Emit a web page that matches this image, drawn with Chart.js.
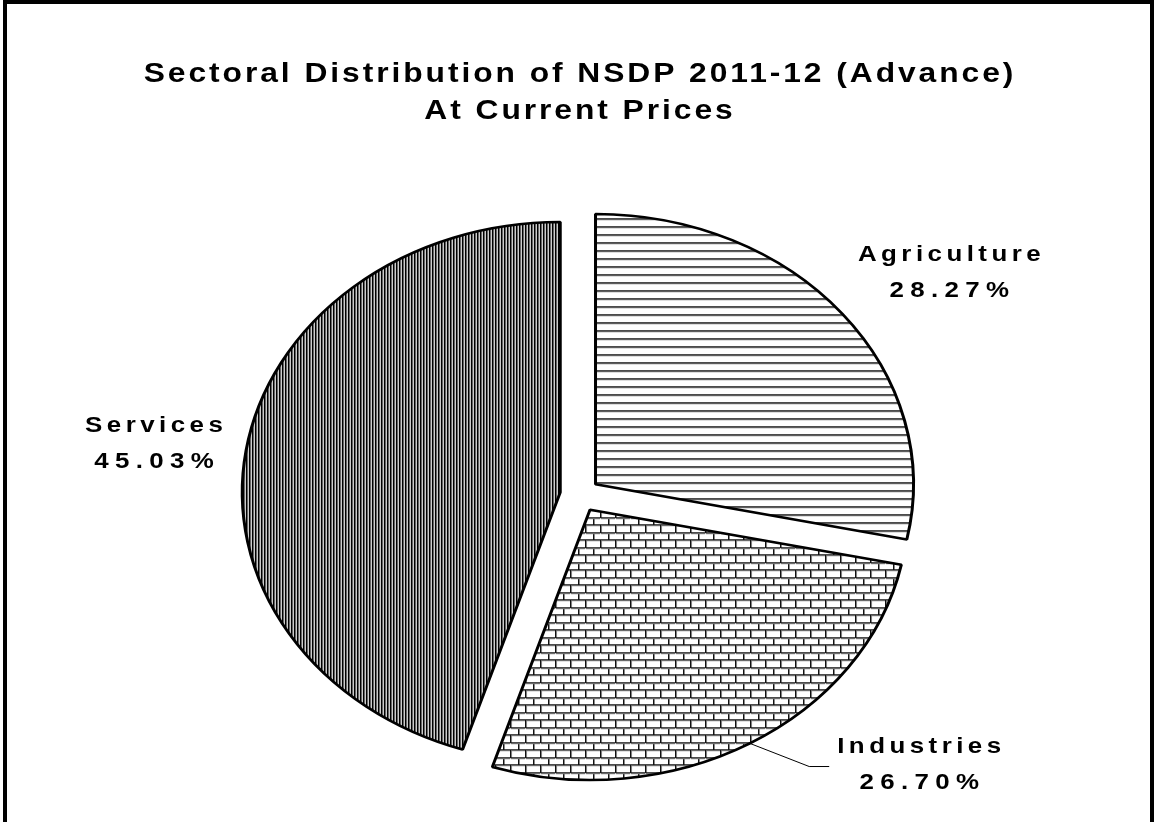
<!DOCTYPE html>
<html>
<head>
<title>Sectoral Distribution of NSDP 2011-12</title>
<script src="https://cdn.jsdelivr.net/npm/chart.js"></script>
<style>
  body { margin: 0; background: #fff; }
</style>
</head>
<body>
<canvas id="pieChart" width="1156" height="822"></canvas>
<script>
const sectors = ['Agriculture', 'Industries', 'Services'];
const shares = [28.27, 26.70, 45.03];

const SQUASH = 0.85;   // pie is drawn as an ellipse, y scaled by this
const STRETCH = 1 / SQUASH; // text is widened by the same amount
const EXPLODE = 20;    // how far each slice is pulled out
const RADIUS = 318;

// label placement: distance as multiple of radius, angle shift in degrees
const labelPos = [
  { k: 1.36, shift: 4 },
  { k: 1.40, shift: -17.5, leader: true },
  { k: 1.29, shift: -1 }
];

function makePattern(w, h, paint) {
  const c = document.createElement('canvas');
  c.width = w; c.height = h;
  const g = c.getContext('2d');
  g.fillStyle = '#fff';
  g.fillRect(0, 0, w, h);
  paint(g);
  const p = g.createPattern(c, 'repeat');
  p.setTransform(new DOMMatrix().scale(1, 1 / SQUASH)); // undo the squash so hatching stays crisp
  return p;
}

const hLines = makePattern(8, 8, g => {
  g.fillStyle = '#111'; g.fillRect(0, 0, 8, 1);
  g.fillStyle = '#777'; g.fillRect(0, 1, 8, 1);
});

const bricks = makePattern(15, 15, g => {
  g.fillStyle = '#111';
  g.fillRect(0, 0, 15, 1);
  g.fillRect(0, 8, 15, 1);
  g.fillRect(0, 0, 1, 8);
  g.fillRect(8, 8, 1, 7);
  g.fillStyle = '#888';
  g.fillRect(1, 1, 14, 1);
  g.fillRect(1, 9, 14, 1);
  g.fillRect(1, 1, 1, 7);
  g.fillRect(9, 9, 1, 6);
});

const vLines = makePattern(3, 4, g => {
  g.fillStyle = '#000'; g.fillRect(0, 0, 1, 4);
  g.fillStyle = '#666'; g.fillRect(1, 0, 1, 4);
  g.fillStyle = '#ccc'; g.fillRect(2, 0, 1, 4);
});

// white page with the black frame, then widen the title like the rest of the figure
const framePlugin = {
  id: 'frame',
  beforeDraw(chart) {
    const ctx = chart.ctx;
    ctx.save();
    ctx.fillStyle = '#fff';
    ctx.fillRect(0, 0, chart.width, chart.height);
    ctx.strokeStyle = '#000';
    ctx.lineWidth = 4;
    ctx.strokeRect(5, 2, chart.width - 9, chart.height + 20);
    ctx.restore();

    const cx = (chart.chartArea.left + chart.chartArea.right) / 2;
    ctx.save();
    ctx.translate(cx, 0);
    ctx.scale(STRETCH, 1);
    ctx.translate(-cx, 0);
    ctx.letterSpacing = '2.5px';
  }
};

// pull slices apart and squash the pie into an ellipse, then write the labels
const explodedPie = {
  id: 'explodedPie',
  afterDatasetsUpdate(chart) {
    const meta = chart.getDatasetMeta(0);
    meta.data.forEach(arc => {
      const mid = (arc.startAngle + arc.endAngle) / 2;
      arc.x += Math.cos(mid) * EXPLODE;
      arc.y += Math.sin(mid) * EXPLODE;
    });
  },
  beforeDatasetsDraw(chart) {
    const ctx = chart.ctx;
    ctx.restore(); // end of the title stretch
    const cy = (chart.chartArea.top + chart.chartArea.bottom) / 2;
    ctx.save();
    ctx.translate(0, cy);
    ctx.scale(1, SQUASH);
    ctx.translate(0, -cy);
  },
  afterDatasetsDraw(chart) {
    const ctx = chart.ctx;
    ctx.restore();

    const cy = (chart.chartArea.top + chart.chartArea.bottom) / 2;
    const toY = y => cy + (y - cy) * SQUASH;
    const meta = chart.getDatasetMeta(0);

    const writeLine = (text, x, y, spacing) => {
      ctx.save();
      ctx.translate(x, y);
      ctx.scale(STRETCH, 1);
      ctx.letterSpacing = spacing + 'px';
      ctx.fillText(text, spacing / 2, 0);
      ctx.restore();
      return (ctx.measureText(text).width + spacing * (text.length - 1)) * STRETCH;
    };

    ctx.save();
    ctx.fillStyle = '#000';
    ctx.textAlign = 'center';
    ctx.textBaseline = 'middle';
    ctx.font = 'bold 22px Arial';

    meta.data.forEach((arc, i) => {
      const pos = labelPos[i];
      const mid = (arc.startAngle + arc.endAngle) / 2;
      const a = mid + pos.shift * Math.PI / 180;
      const r = arc.outerRadius * pos.k;
      const x = arc.x + Math.cos(a) * r;
      const y = toY(arc.y + Math.sin(a) * r);

      const nameW = writeLine(sectors[i], x, y - 18, 3.8);
      writeLine(shares[i].toFixed(2) + '%', x, y + 18, 5.4);

      if (pos.leader) {
        const left = x - nameW / 2;
        const sx = arc.x + Math.cos(mid) * arc.outerRadius;
        const sy = toY(arc.y + Math.sin(mid) * arc.outerRadius);
        ctx.strokeStyle = '#000';
        ctx.lineWidth = 1;
        ctx.beginPath();
        ctx.moveTo(sx, sy);
        ctx.lineTo(left - 28, y + 2);
        ctx.lineTo(left - 8, y + 2);
        ctx.stroke();
      }
    });
    ctx.restore();
  }
};

new Chart(document.getElementById('pieChart'), {
  type: 'pie',
  data: {
    labels: sectors,
    datasets: [{
      data: shares,
      backgroundColor: [hLines, bricks, vLines],
      borderColor: '#000',
      borderWidth: 3,
      radius: RADIUS,
      clip: false
    }]
  },
  options: {
    responsive: false,
    animation: false,
    events: [],
    layout: { padding: { left: 4, right: 0, top: 0, bottom: 0 } },
    plugins: {
      legend: { display: false },
      tooltip: { enabled: false },
      title: {
        display: true,
        text: ['Sectoral Distribution of NSDP 2011-12 (Advance)', 'At Current Prices'],
        color: '#000',
        font: { family: 'Arial', size: 27, weight: 'bold', lineHeight: 1.37 },
        padding: { top: 56, bottom: 38 }
      }
    }
  },
  plugins: [framePlugin, explodedPie]
});
</script>
</body>
</html>
